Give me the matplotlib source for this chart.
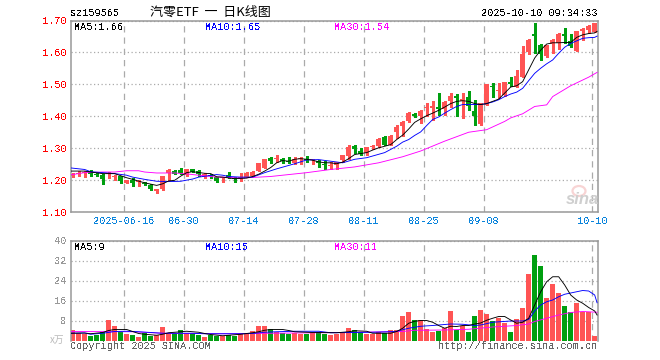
import matplotlib
matplotlib.use('Agg')
import matplotlib.pyplot as plt
from matplotlib.patches import Ellipse
import numpy as np

plt.rcParams['font.family'] = ['Liberation Mono', 'DejaVu Sans Mono']
plt.rcParams['text.antialiased'] = False

# daily candles, oldest first
opens = [1.213,1.218,1.221,1.227,1.218,1.215,1.217,1.208,1.210,1.191,1.198,1.194,1.190,1.182,1.164,1.170,1.222,1.228,1.229,1.216,
         1.232,1.228,1.209,1.214,1.207,1.204,1.216,1.206,1.204,1.208,1.211,1.227,1.238,1.269,1.265,1.266,1.260,1.253,1.265,1.266,
         1.262,1.260,1.247,1.244,1.246,1.261,1.274,1.307,1.291,1.284,1.304,1.305,1.334,1.310,1.350,1.368,1.383,1.407,1.401,1.424,
         1.425,1.428,1.422,1.448,1.464,1.448,1.461,1.417,1.376,1.435,1.495,1.479,1.467,1.508,1.491,1.524,1.602,1.657,1.623,1.589,
         1.625,1.628,1.657,1.636,1.605,1.668,1.670,1.665]
closes = [1.217,1.220,1.223,1.219,1.215,1.201,1.220,1.211,1.196,1.198,1.189,1.197,1.186,1.170,1.170,1.210,1.231,1.218,1.220,1.232,
          1.225,1.217,1.218,1.210,1.196,1.206,1.206,1.201,1.206,1.222,1.225,1.251,1.264,1.260,1.267,1.258,1.255,1.266,1.267,1.263,
          1.264,1.251,1.245,1.246,1.256,1.276,1.303,1.295,1.282,1.302,1.306,1.329,1.310,1.338,1.366,1.381,1.410,1.399,1.416,1.426,
          1.432,1.422,1.444,1.464,1.455,1.453,1.432,1.399,1.441,1.500,1.491,1.481,1.507,1.500,1.526,1.595,1.639,1.652,1.594,1.623,
          1.639,1.659,1.651,1.621,1.667,1.673,1.683,1.692]
highs = [1.222,1.226,1.227,1.230,1.222,1.217,1.223,1.216,1.212,1.200,1.204,1.199,1.192,1.185,1.171,1.212,1.232,1.229,1.238,1.233,
         1.234,1.230,1.220,1.217,1.208,1.208,1.225,1.207,1.220,1.223,1.226,1.252,1.265,1.270,1.276,1.267,1.272,1.272,1.272,1.274,
         1.265,1.261,1.258,1.254,1.257,1.277,1.310,1.308,1.298,1.303,1.310,1.330,1.336,1.339,1.373,1.383,1.412,1.409,1.418,1.440,
         1.448,1.472,1.446,1.472,1.468,1.472,1.477,1.451,1.442,1.501,1.503,1.503,1.508,1.522,1.543,1.620,1.642,1.692,1.625,1.624,
         1.641,1.662,1.675,1.657,1.668,1.676,1.687,1.693]
lows = [1.208,1.212,1.208,1.210,1.212,1.185,1.204,1.200,1.189,1.189,1.180,1.180,1.184,1.167,1.158,1.168,1.200,1.217,1.218,1.211,
        1.224,1.211,1.206,1.204,1.192,1.193,1.206,1.193,1.196,1.207,1.210,1.226,1.237,1.253,1.256,1.251,1.251,1.248,1.250,1.256,
        1.248,1.240,1.232,1.232,1.232,1.255,1.266,1.284,1.279,1.278,1.297,1.304,1.309,1.309,1.331,1.338,1.381,1.398,1.378,1.400,
        1.389,1.404,1.404,1.427,1.399,1.394,1.420,1.373,1.373,1.434,1.461,1.456,1.464,1.495,1.490,1.522,1.595,1.599,1.576,1.586,
        1.599,1.610,1.630,1.618,1.604,1.640,1.660,1.663]
volumes = [4.3,3.2,2.8,1.9,2.4,3.3,8.2,6.0,3.3,2.7,2.3,1.5,3.2,1.9,2.1,5.4,3.2,3.2,4.3,3.2,
           3.2,2.4,1.6,2.1,1.9,1.9,2.1,1.9,2.5,2.5,3.9,5.8,5.8,4.5,3.3,3.2,2.8,3.2,2.8,2.7,
           3.1,3.3,2.8,2.3,2.8,2.9,5.0,4.3,3.3,2.8,2.8,3.3,2.9,4.3,4.3,9.8,11.4,8.2,8.2,4.7,
           3.5,4.0,5.0,11.8,4.3,6.0,3.5,9.8,12.2,10.6,7.8,9.0,7.0,3.5,8.6,13.0,26.6,34.2,29.8,17.0,
           22.6,19.0,13.8,11.3,15.0,11.4,11.4,1.9]

# moving averages at these bars
ma5_days = [-0.4,2,3,5,7,9,10,12,14,15,16,17,18,19,20,22,23,24,25,27,29,30,31,32,33,34,35,36,37,38,39,40,41,42,43,44,45,46,47,48,49,50,51,52,53,54,55,56,57,58,59,60,61,62,63,64,65,66,67,68,69,70,71,72,73,74,75,76,77,78,79,80,81,82,83,84,85,86,87,87.4]
ma5 = [1.227,1.227,1.224,1.219,1.219,1.206,1.201,1.190,1.182,1.187,1.196,1.198,1.211,1.222,1.225,1.220,1.219,1.209,1.208,1.203,1.205,1.210,1.217,1.227,1.238,1.253,1.260,1.258,1.264,1.266,1.264,1.261,1.256,1.253,1.253,1.250,1.255,1.266,1.279,1.282,1.285,1.293,1.300,1.305,1.310,1.326,1.340,1.359,1.380,1.391,1.401,1.409,1.418,1.428,1.439,1.446,1.448,1.446,1.439,1.436,1.439,1.446,1.453,1.472,1.491,1.495,1.508,1.545,1.582,1.607,1.626,1.630,1.630,1.631,1.631,1.647,1.655,1.659,1.661,1.666]
ma10_days = [-0.4,2,3,5,7,9,10,12,14,16,18,20,21,24,25,26,28,30,32,34,37,39,41,45,47,49,52,54,55,56,57,58,59,60,61,62,63,64,65,66,67,68,69,70,71,72,73,74,75,76,77,78,79,80,81,82,83,84,85,86,87,87.4]
ma10 = [1.237,1.232,1.225,1.222,1.219,1.214,1.208,1.201,1.195,1.194,1.195,1.202,1.208,1.216,1.214,1.210,1.208,1.208,1.222,1.234,1.250,1.262,1.263,1.253,1.264,1.269,1.285,1.305,1.318,1.326,1.339,1.350,1.370,1.389,1.397,1.409,1.420,1.430,1.436,1.436,1.436,1.436,1.439,1.444,1.451,1.461,1.469,1.475,1.487,1.511,1.534,1.550,1.564,1.576,1.597,1.616,1.628,1.636,1.644,1.646,1.647,1.651]
ma30_days = [-0.4,2,5,7,9,11,12,14,17,19,21,24,25,28,30,33,36,39,43,47,51,55,58,62,66,69,72,73,75,77,79,80,83,86,87.4]
ma30 = [1.215,1.222,1.224,1.224,1.228,1.228,1.224,1.221,1.221,1.218,1.214,1.208,1.208,1.205,1.207,1.210,1.216,1.222,1.232,1.240,1.253,1.272,1.290,1.321,1.349,1.357,1.383,1.394,1.407,1.430,1.435,1.461,1.495,1.522,1.537]

vma5_days = [-0.4,2,3,5,6,7,9,10,11,12,14,15,16,18,19,21,22,23,25,26,28,30,31,32,33,35,36,37,40,44,46,47,49,50,52,53,54,55,56,57,58,59,60,61,62,63,64,65,66,67,68,69,70,71,72,73,74,75,76,77,78,79,80,81,82,83,84,85,86,87,87.4]
vma5 = [2.9,3.0,2.7,3.2,4.0,4.4,4.4,3.6,2.8,2.5,2.1,2.5,3.1,3.5,3.7,3.3,2.8,2.4,1.9,2.1,2.5,3.1,3.5,4.1,4.4,4.4,4.0,3.5,3.2,3.1,3.5,3.9,3.7,2.9,2.9,2.9,3.6,4.9,6.9,7.7,8.0,8.0,7.3,6.0,4.9,5.7,5.6,6.0,6.0,6.6,7.0,8.1,8.9,9.6,9.6,8.2,6.9,7.3,8.9,14.2,19.5,23.5,25.5,25.5,22.2,18.2,16.2,14.9,13.2,11.8,10.2]
vma10_days = [-0.4,2,3,5,7,9,11,13,15,17,20,22,24,25,28,30,32,34,37,41,43,50,53,54,55,56,57,58,60,63,65,67,68,70,73,75,76,77,78,79,80,81,82,84,85,86,87,87.4]
vma10 = [2.9,3.0,2.5,2.9,3.6,3.7,3.5,3.2,2.9,2.9,2.9,2.7,2.7,2.7,2.7,2.8,3.3,3.5,3.7,3.7,3.1,3.3,3.5,3.7,4.3,4.9,5.3,5.7,6.0,6.6,6.5,6.0,6.2,7.3,7.8,7.8,8.4,11.8,14.2,15.5,16.2,17.5,18.5,19.5,20.0,19.8,18.2,15.1]
vma30_days = [-0.4,10,15,25,45,55,57,58,62,66,70,74,76,77,79,81,83,85,87.4]
vma30 = [3.6,3.5,2.9,2.7,3.2,3.6,4.1,4.1,4.2,4.5,5.4,6.0,6.6,7.6,8.9,10.2,11.2,11.6,11.3]

tick_days = [9,19,29,39,49,59,69,87]
tick_labels = ['2025-06-16','06-30','07-14','07-28','08-11','08-25','09-08','10-10']
price_ticks = [1.10,1.20,1.30,1.40,1.50,1.60,1.70]
vol_ticks = [8,16,24,32,40]

RED = '#ff5454'
GREEN = '#009f10'
W, H = 660, 360

def make_axes(fig, top, bottom):
    return fig.add_axes([70.5/W, 1-bottom/H, 527/W, (bottom-top)/H])

def style_axes(ax, tick_color):
    ax.set_xlim(-0.36, 87.47)
    for s in ax.spines.values():
        s.set_color('#999999')
        s.set_linewidth(1.1)
    ax.set_xticks(np.array(tick_days) - 0.44)
    ax.grid(axis='x', color='#aaaaaa', linestyle=(0, (5, 4)), linewidth=0.9)
    ax.grid(axis='y', color='#aaaaaa', linestyle=(0, (1, 2)), linewidth=0.9)
    ax.set_axisbelow(True)
    ax.tick_params(length=0, pad=3)
    ax.tick_params(axis='y', labelcolor=tick_color, labelsize=7.3)

fig = plt.figure(figsize=(6.6, 3.6), dpi=100)

ax = make_axes(fig, 20.5, 211.5)
style_axes(ax, '#ff0000')
ax.set_ylim(1.1025, 1.70)
ax.set_yticks(price_ticks)
ax.set_yticklabels(['%.2f' % p for p in price_ticks])
ax.set_xticklabels(tick_labels, color='#0a84dc', fontsize=7.3)

days = np.arange(len(opens))
o, c = np.array(opens), np.array(closes)
up = c >= o
colors = [RED if u else GREEN for u in up]
ax.vlines(days, lows, highs, colors=colors, linewidth=0.75, antialiased=False, zorder=2)
ax.bar(days, np.maximum(np.abs(c - o), 0.003), bottom=np.minimum(o, c), width=0.88,
       color=colors, antialiased=False, zorder=2)
ax.plot(ma30_days, ma30, color='#ff00ff', linewidth=0.65, zorder=3)
ax.plot(ma10_days, ma10, color='#0000ff', linewidth=0.65, zorder=3)
ax.plot(ma5_days, ma5, color='black', linewidth=0.65, zorder=3)

vax = make_axes(fig, 240.5, 340.5)
style_axes(vax, '#999999')
vax.spines['bottom'].set_visible(False)
vax.set_ylim(0, 40)
vax.set_yticks(vol_ticks)
vax.set_xticklabels([])
vax.bar(days, volumes, width=0.88, color=colors, antialiased=False, zorder=2)
vax.plot(vma30_days, vma30, color='#ff00ff', linewidth=0.65, zorder=3)
vax.plot(vma10_days, vma10, color='#0000ff', linewidth=0.65, zorder=3)
vax.plot(vma5_days, vma5, color='black', linewidth=0.65, zorder=3)

def label(x, y, s, **kw):
    kw.setdefault('fontsize', 7.3)
    kw.setdefault('va', 'center')
    fig.text(x/W, 1-y/H, s, **kw)

label(70, 13, 'sz159565')
label(150, 12, '汽零ETF  一  日K线图', fontsize=9.4, family=['Noto Sans CJK SC', 'DejaVu Sans'], antialiased=True)
label(597, 13, '2025-10-10 09:34:33', ha='right')
for y, texts in [(27, ['MA5:1.66', 'MA10:1.65', 'MA30:1.54']), (246.5, ['MA5:9', 'MA10:15', 'MA30:11'])]:
    for x, s, col in zip([74.5, 205, 334.5], texts, ['black', '#0000ff', '#ff00ff']):
        label(x, y, s, color=col)
label(50, 340, 'x万', color='#bbbbbb', style='italic', fontsize=7, family=['Noto Sans CJK SC', 'DejaVu Sans'], antialiased=True)
label(70, 346, 'Copyright 2025 SINA.COM', color='#666666')
label(597, 346, 'http://finance.sina.com.cn', color='#666666', ha='right')

# sina watermark
fig.add_artist(Ellipse((579/W, 1-191/H), 13/W, 10/H, fill=False, edgecolor='#f8d4d4', linewidth=1.6))
label(566, 200, 'sina', color='#cfcfcf', fontsize=12, style='italic', weight='bold', family='Liberation Sans', antialiased=True)

fig.savefig('out.png', dpi=100)
